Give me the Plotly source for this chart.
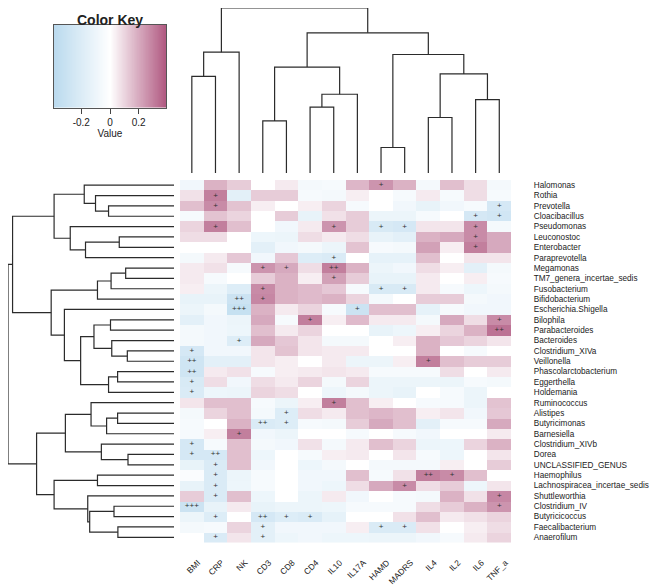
import numpy as np
import plotly.graph_objects as go

genera = ["Halomonas", "Rothia", "Prevotella", "Cloacibacillus", "Pseudomonas", "Leuconostoc",
          "Enterobacter", "Paraprevotella", "Megamonas", "TM7_genera_incertae_sedis", "Fusobacterium",
          "Bifidobacterium", "Escherichia.Shigella", "Bilophila", "Parabacteroides", "Bacteroides",
          "Clostridium_XIVa", "Veillonella", "Phascolarctobacterium", "Eggerthella", "Holdemania",
          "Ruminococcus", "Alistipes", "Butyricimonas", "Barnesiella", "Clostridium_XIVb", "Dorea",
          "UNCLASSIFIED_GENUS", "Haemophilus", "Lachnospiracea_incertae_sedis", "Shuttleworthia",
          "Clostridium_IV", "Butyricicoccus", "Faecalibacterium", "Anaerofilum"]

variables = ["BMI", "CRP", "NK", "CD3", "CD8", "CD4", "IL10", "IL17A", "HAMD", "MADRS",
             "IL4", "IL2", "IL6", "TNF_a"]

BMI = [-0.08, 0.07, 0.15, -0.05, 0.10, 0.08, 0, -0.06, 0.05, 0.05, 0.04, -0.13, -0.11, -0.16, -0.06,
       -0.06, -0.24, -0.27, -0.27, -0.22, -0.21, 0.06, -0.06, -0.05, -0.05, -0.24, -0.24, -0.13, -0.03,
       -0.13, 0.12, -0.29, -0.11, -0.06, 0]
CRP = [0.18, 0.30, 0.27, 0.14, 0.30, 0.08, 0, 0.05, 0.07, -0.05, -0.11, -0.13, -0.06, -0.08, -0.08,
       -0.08, -0.08, -0.16, 0.05, 0.08, -0.10, 0.15, 0.10, 0, 0.04, -0.05, -0.24, -0.21, -0.21, -0.21,
       -0.21, -0.13, -0.19, -0.05, -0.21]
NK = [0.12, -0.16, 0.14, 0.10, 0.15, 0, 0, 0.13, -0.05, 0, -0.19, -0.29, -0.32, -0.11, -0.10, -0.19,
      -0.08, -0.16, 0.07, -0.08, -0.11, 0.15, 0.15, 0.18, 0.30, 0.15, 0.15, 0.15, -0.11, -0.10, 0.15,
      0.05, 0, 0.10, 0.06]
CD3 = [0, 0.12, 0.04, 0, 0, -0.10, -0.16, -0.08, 0.25, 0.12, 0.27, 0.28, 0.18, 0.20, 0.15, 0.20, 0.06,
       0.06, -0.05, 0.08, 0.10, -0.05, -0.06, -0.21, -0.08, -0.06, -0.10, -0.08, -0.05, -0.05, -0.10,
       -0.13, -0.24, -0.16, -0.16]
CD8 = [0.05, 0.12, 0, 0.12, -0.08, -0.11, -0.08, 0.13, 0.20, 0.18, 0.18, 0.18, 0.05, -0.05, 0.05, 0.13,
       0.14, 0.04, 0.04, 0.05, 0.08, -0.11, -0.19, -0.19, -0.11, -0.08, 0, 0, 0, 0, 0, -0.11, -0.19,
       -0.08, -0.10]
CD4 = [-0.06, -0.05, 0.04, -0.13, 0.05, 0.08, -0.06, -0.19, 0.08, 0.04, 0.16, 0.16, 0.10, 0.30, 0.10,
       0.06, 0.06, 0, 0.05, 0.10, 0, 0.04, 0.08, -0.05, 0, 0.07, -0.05, -0.10, -0.08, -0.08, -0.11,
       -0.11, -0.21, -0.08, -0.08]
IL10 = [-0.05, -0.06, 0.10, 0.07, 0.25, 0.05, -0.11, -0.21, 0.30, 0.22, 0.13, 0.18, -0.05, 0.04, 0,
        -0.06, 0.05, 0.05, 0.06, -0.06, -0.10, 0.30, 0.05, -0.06, 0, -0.06, 0.04, -0.06, -0.08, -0.10,
        0.05, -0.10, -0.14, -0.08, -0.10]
IL17A = [0.17, 0.04, -0.05, 0.12, 0.12, 0.08, 0.14, 0, 0.18, 0.12, -0.05, 0.10, -0.29, 0.16, 0, -0.06,
         0.05, -0.11, 0.05, 0.10, -0.06, 0.15, 0.15, 0.12, -0.05, 0.05, 0.05, 0, 0.15, 0.08, -0.08,
         -0.05, 0, 0.04, -0.10]
HAMD = [0.25, 0, 0, -0.11, -0.22, -0.13, -0.05, -0.14, -0.11, -0.13, -0.22, -0.06, 0.15, 0.05, -0.13,
        0, 0, -0.11, -0.05, -0.11, -0.11, 0.04, 0.17, 0.20, 0, 0.15, 0, -0.06, -0.05, 0.20, 0, -0.05,
        0, -0.21, -0.11]
MADRS = [0.18, -0.05, -0.08, -0.11, -0.24, -0.16, -0.06, -0.14, -0.08, -0.13, -0.22, 0, 0.15, 0.05,
         -0.10, 0.04, 0, 0.04, -0.05, -0.11, -0.13, 0, 0.15, 0.15, -0.05, 0.10, 0.06, -0.06, 0.07, 0.27,
         -0.05, -0.05, 0.07, -0.21, -0.11]
IL4 = [-0.06, 0.05, -0.13, -0.05, 0.06, 0.18, 0.22, 0.15, 0.08, 0.05, 0.05, 0.12, -0.14, -0.06, 0.04,
       0.18, 0.18, 0.30, -0.05, -0.11, 0, -0.05, 0.04, -0.16, -0.08, -0.11, -0.05, -0.06, 0.30, 0.08,
       -0.06, 0.08, 0.15, 0.07, -0.08]
IL2 = [0.15, -0.05, -0.08, 0, 0.06, 0.20, 0.04, 0, 0.04, 0, -0.05, 0.12, -0.05, 0.20, 0.10, 0.13, 0,
       0.15, 0.08, -0.11, -0.05, -0.05, 0.06, -0.05, 0, -0.10, -0.10, 0.04, 0.27, 0.12, 0.18, 0.12,
       0.05, 0, -0.05]
IL6 = [0.08, 0.08, -0.05, -0.24, 0.27, 0.27, 0.30, 0.06, -0.16, 0.04, -0.10, -0.06, -0.08, 0.08, 0.18,
       0.10, -0.05, 0.12, 0, -0.05, -0.11, -0.11, -0.08, -0.05, 0, 0.10, 0, 0, 0.15, -0.10, 0.07, 0.18,
       0.07, 0.04, 0.05]
TNF_a = [-0.06, -0.05, -0.24, -0.26, -0.06, 0.20, 0.20, 0.06, -0.06, -0.05, -0.06, -0.08, -0.08, 0.27,
         0.33, 0.06, 0, 0.12, 0.05, -0.06, 0, 0.14, 0.13, 0.20, 0.05, 0.18, 0.06, 0.12, 0, 0.06, 0.28,
         0.25, 0.10, 0.08, 0.10]

sig_marks = [
    ("Halomonas", "HAMD", "+"), ("Rothia", "CRP", "+"), ("Prevotella", "CRP", "+"),
    ("Prevotella", "TNF_a", "+"), ("Cloacibacillus", "IL6", "+"), ("Cloacibacillus", "TNF_a", "+"),
    ("Pseudomonas", "CRP", "+"), ("Pseudomonas", "IL10", "+"), ("Pseudomonas", "HAMD", "+"),
    ("Pseudomonas", "MADRS", "+"), ("Pseudomonas", "IL6", "+"), ("Leuconostoc", "IL6", "+"),
    ("Enterobacter", "IL6", "+"), ("Paraprevotella", "IL10", "+"), ("Megamonas", "CD3", "+"),
    ("Megamonas", "CD8", "+"), ("Megamonas", "IL10", "++"), ("TM7_genera_incertae_sedis", "IL10", "+"),
    ("Fusobacterium", "CD3", "+"), ("Fusobacterium", "HAMD", "+"), ("Fusobacterium", "MADRS", "+"),
    ("Bifidobacterium", "NK", "++"), ("Bifidobacterium", "CD3", "+"),
    ("Escherichia.Shigella", "NK", "+++"), ("Escherichia.Shigella", "IL17A", "+"),
    ("Bilophila", "CD4", "+"), ("Bilophila", "TNF_a", "+"), ("Parabacteroides", "TNF_a", "++"),
    ("Bacteroides", "NK", "+"), ("Clostridium_XIVa", "BMI", "+"), ("Veillonella", "BMI", "++"),
    ("Veillonella", "IL4", "+"), ("Phascolarctobacterium", "BMI", "++"), ("Eggerthella", "BMI", "+"),
    ("Holdemania", "BMI", "+"), ("Ruminococcus", "IL10", "+"), ("Alistipes", "CD8", "+"),
    ("Butyricimonas", "CD3", "++"), ("Butyricimonas", "CD8", "+"), ("Barnesiella", "NK", "+"),
    ("Clostridium_XIVb", "BMI", "+"), ("Dorea", "BMI", "+"), ("Dorea", "CRP", "++"),
    ("UNCLASSIFIED_GENUS", "CRP", "+"), ("Haemophilus", "CRP", "+"), ("Haemophilus", "IL4", "++"),
    ("Haemophilus", "IL2", "+"), ("Lachnospiracea_incertae_sedis", "CRP", "+"),
    ("Lachnospiracea_incertae_sedis", "MADRS", "+"), ("Shuttleworthia", "CRP", "+"),
    ("Shuttleworthia", "TNF_a", "+"), ("Clostridium_IV", "BMI", "+++"), ("Clostridium_IV", "TNF_a", "+"),
    ("Butyricicoccus", "CRP", "+"), ("Butyricicoccus", "CD3", "++"), ("Butyricicoccus", "CD8", "+"),
    ("Butyricicoccus", "CD4", "+"), ("Faecalibacterium", "CD3", "+"), ("Faecalibacterium", "HAMD", "+"),
    ("Faecalibacterium", "MADRS", "+"), ("Anaerofilum", "CRP", "+"), ("Anaerofilum", "CD3", "+"),
]

# linkage: [left node, right node, merge height]; leaves are 0..n-1 in display order
row_linkage = [
    [2, 3, 0.673], [1, 35, 0.807], [0, 36, 0.923], [5, 6, 0.563], [38, 7, 0.910], [4, 39, 1.067],
    [37, 40, 1.233], [8, 9, 0.497], [42, 10, 0.647], [43, 11, 0.787], [13, 14, 0.653], [16, 17, 0.480],
    [15, 46, 0.640], [45, 47, 0.823], [18, 19, 0.580], [49, 20, 0.673], [48, 50, 0.960], [12, 51, 1.127],
    [44, 52, 1.263], [41, 53, 1.660], [22, 23, 0.580], [55, 24, 0.693], [21, 56, 0.853], [26, 27, 0.473],
    [25, 58, 0.747], [57, 59, 1.117], [28, 29, 0.787], [31, 32, 0.617], [33, 34, 0.577], [62, 63, 0.867],
    [30, 64, 0.887], [61, 65, 1.233], [60, 66, 1.413], [54, 67, 1.707],
]
col_linkage = [
    [0, 1, 0.997], [14, 2, 1.247], [3, 4, 0.537], [5, 6, 0.680], [17, 7, 0.813], [16, 18, 1.093],
    [8, 9, 0.263], [10, 11, 0.573], [12, 13, 0.757], [21, 22, 1.023], [20, 23, 1.223], [19, 24, 1.447],
    [15, 25, 1.703],
]

key_range = [-0.39, 0.39]
key_ticks = [-0.2, 0, 0.2]
key_ticktext = ["-0.2", "0", "0.2"]

FONT = "Liberation Sans, Arial, sans-serif"
W, H = 660, 586
OFF = 8  # page offset of the figure inside the browser window
LINE = "#2b2b2b"


def PX(px):
    return min(max((px - OFF) / W, 0.0), 1.0)


def PY(py):
    return min(max(1 - (py - OFF) / H, 0.0), 1.0)


def dendro(linkage, n):
    pos = {i: float(i) for i in range(n)}
    hgt = {i: 0.0 for i in range(n)}
    p, h = [], []
    for k, (a, b, ht) in enumerate(linkage):
        p += [pos[a], pos[a], pos[b], pos[b], None]
        h += [hgt[a], ht, ht, hgt[b], None]
        pos[n + k] = (pos[a] + pos[b]) / 2
        hgt[n + k] = ht
    return p, h


z = np.column_stack([BMI, CRP, NK, CD3, CD8, CD4, IL10, IL17A, HAMD, MADRS, IL4, IL2, IL6, TNF_a])

colorscale = [[0.0, "rgb(186,218,238)"], [0.5, "rgb(255,255,255)"], [1.0, "rgb(176,88,128)"]]

fig = go.Figure()
fig.add_trace(go.Heatmap(
    z=z, x=list(range(len(variables))), y=list(range(len(genera))),
    colorscale=colorscale, zmin=key_range[0], zmax=key_range[1], xaxis="x", yaxis="y",
    hoverinfo="skip", showscale=False,
))

mx = [variables.index(v) for g, v, m in sig_marks]
my = [genera.index(g) for g, v, m in sig_marks]
mt = [m for g, v, m in sig_marks]
fig.add_trace(go.Scatter(x=mx, y=my, text=mt, mode="text", xaxis="x", yaxis="y",
                         textfont=dict(size=8, family=FONT, color="#333"), hoverinfo="skip",
                         showlegend=False))

cp, ch = dendro(col_linkage, len(variables))
fig.add_trace(go.Scatter(x=cp, y=ch, mode="lines", xaxis="x2", yaxis="y2",
                         line=dict(color=LINE, width=1.2), hoverinfo="skip", showlegend=False))
rp, rh = dendro(row_linkage, len(genera))
fig.add_trace(go.Scatter(x=rh, y=rp, mode="lines", xaxis="x3", yaxis="y3",
                         line=dict(color=LINE, width=1.2), hoverinfo="skip", showlegend=False))

# colour key: gradient sampled over the heatmap's value range
key_x = np.linspace(key_range[0], key_range[1], 201)
fig.add_trace(go.Heatmap(z=[key_x], x=key_x, y=[0], colorscale=colorscale, zmin=key_range[0],
                         zmax=key_range[1], showscale=False, xaxis="x4", yaxis="y4",
                         hoverinfo="skip"))

hm_x = [PX(180), PX(511.1)]
hm_y = [PY(542.5), PY(180)]
fig.update_layout(
    width=W, height=H, margin=dict(l=0, r=0, t=0, b=0, autoexpand=False),
    paper_bgcolor="white", plot_bgcolor="white", showlegend=False,
    font=dict(family=FONT, size=8.2, color="#222"),
    xaxis=dict(domain=hm_x, range=[-0.5, len(variables) - 0.5], anchor="y",
               tickvals=list(range(len(variables))), ticktext=variables, tickangle=-45,
               ticks="outside", ticklen=11, tickcolor="rgba(0,0,0,0)", ticklabelshift=6,
               showgrid=False, zeroline=False, showline=False, tickfont=dict(size=8.4)),
    yaxis=dict(domain=hm_y, range=[len(genera) - 0.5, -0.5], anchor="x", side="right",
               tickvals=list(range(len(genera))), ticktext=genera, ticks="outside", ticklen=20,
               tickcolor="rgba(0,0,0,0)", showgrid=False, zeroline=False, showline=False,
               tickfont=dict(size=8.2)),
    xaxis2=dict(domain=hm_x, range=[-0.5, len(variables) - 0.5], anchor="y2", visible=False),
    yaxis2=dict(domain=[PY(173), 1], range=[0, 1.703], anchor="x2", visible=False),
    xaxis3=dict(domain=[0, PX(174)], range=[1.707, 0], anchor="y3", visible=False),
    yaxis3=dict(domain=hm_y, range=[len(genera) - 0.5, -0.5], anchor="x3", visible=False),
    xaxis4=dict(domain=[PX(54), PX(166)], range=key_range, anchor="y4", tickvals=key_ticks,
                ticktext=key_ticktext, ticks="outside", ticklen=5, tickcolor="#444",
                showline=True, mirror=True, linecolor="#555", linewidth=1, showgrid=False,
                zeroline=False, tickfont=dict(size=10),
                title=dict(text="Value", font=dict(size=10), standoff=2)),
    yaxis4=dict(domain=[PY(107.7), PY(24.7)], range=[-0.5, 0.5], anchor="x4",
                showticklabels=False, ticks="", showline=True, mirror=True, linecolor="#555",
                linewidth=1, showgrid=False, zeroline=False),
    annotations=[dict(text="<b>Color Key</b>", x=PX(110), y=PY(10), xref="paper", yref="paper",
                      xanchor="center", yanchor="top", showarrow=False,
                      font=dict(size=14, family=FONT, color="#222"))],
)

fig.write_html("out.html")
